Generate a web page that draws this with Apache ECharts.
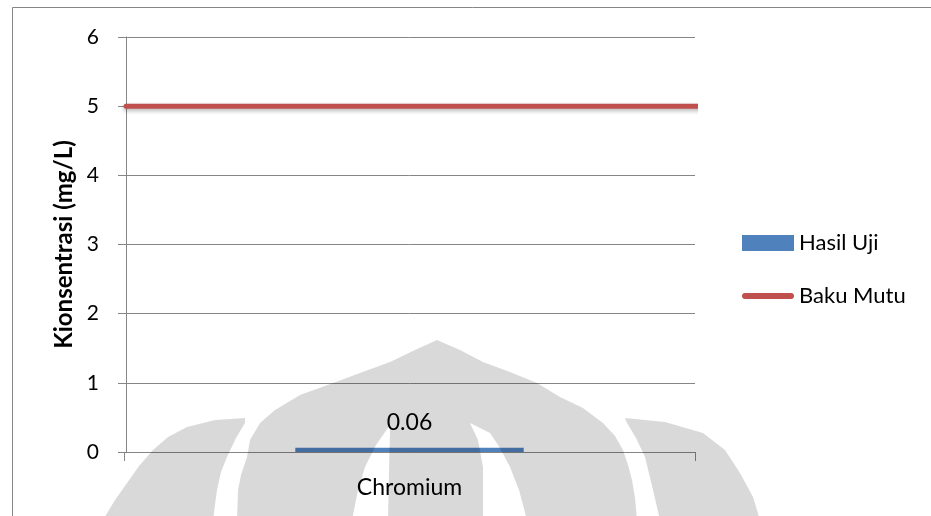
<!DOCTYPE html>
<html>
<head>
<meta charset="utf-8">
<script src="https://cdn.jsdelivr.net/npm/echarts@6/dist/echarts.min.js"></script>
<style>
  html, body { margin: 0; padding: 0; background: #ffffff; }
  #chart { width: 931px; height: 516px; }
</style>
</head>
<body>
<div id="chart"></div>
<script>
// Chart data
const categories = ['Chromium'];
const hasilUji = [0.06];
const bakuMutu = [5];
const yTicks = [0, 1, 2, 3, 4, 5, 6];

const FONT = 'Lato, "Open Sans", sans-serif';
const AXIS_GREY = '#868686';

// Faint background emblem shapes (semi-transparent overlay)
const WM_FILL = 'rgba(0,0,0,0.15)';
const emblemDome = [
  [437,340],[460,350],[483,362],[510,372],[537,383],[560,397],[583,408],[603,423],
  [615,436],[623,450],[628,465],[632,480],[635,498],[637,520],
  [527,520],[519,490],[510,467],[500,448],[490,433],[470,423],
  [478,440],[483,467],[483,520],
  [388,520],[389,470],[390,433],[390,425],
  [376,445],[365,467],[358,490],[352,520],
  [237,520],[238,490],[241,475],[247,457],[250,440],[260,423],[275,410],
  [300,395],[333,383],[360,373],[390,362],[415,350]
];
const emblemLeft = [
  [245,418],[215,420],[187,427],[168,437],[153,450],[139,466],[127,483],[115,500],[103,520],
  [213,520],[217,490],[221,472],[227,457],[236,438],[245,423]
];
const emblemRight = [
  [625,418],[665,422],[703,433],[725,450],[740,473],[753,497],[760,520],
  [660,520],[653,490],[645,457],[636,438],[627,423]
];

// Legend icon for the limit line: thick bar with rounded ends
const LINE_ICON = 'path://M3,0L49,0A3,3,0,0,1,49,6L3,6A3,3,0,0,1,3,0Z';

const chart = echarts.init(document.getElementById('chart'), null, { renderer: 'canvas' });

chart.setOption({
  animation: false,
  backgroundColor: '#ffffff',
  grid: { left: 124, right: 236, top: 37, bottom: 64, containLabel: false },
  legend: {
    orient: 'vertical',
    left: 742,
    top: 232,
    padding: 0,
    itemWidth: 52,
    itemHeight: 16,
    itemGap: 31,
    symbolKeepAspect: true,
    textStyle: { fontFamily: FONT, fontSize: 22, color: '#000', lineHeight: 16, padding: [2, 0, 0, 0] },
    data: [
      { name: 'Hasil Uji', icon: 'rect' },
      { name: 'Baku Mutu', icon: LINE_ICON, itemStyle: { color: '#C0504D' } }
    ]
  },
  xAxis: [
    {
      type: 'category',
      data: categories,
      axisLine: { show: true, lineStyle: { color: AXIS_GREY, width: 1 } },
      axisTick: { show: true, length: 9, lineStyle: { color: AXIS_GREY } },
      axisLabel: { fontFamily: FONT, fontSize: 23, color: '#000', margin: 24 },
      splitLine: { show: false }
    },
    {
      // helper axis spanning the plot width for the limit line
      type: 'value',
      show: false,
      min: -0.00345,
      max: 0.981
    }
  ],
  yAxis: {
    type: 'value',
    min: yTicks[0],
    max: yTicks[yTicks.length - 1],
    interval: 1,
    name: 'Kionsentrasi (mg/L)',
    nameLocation: 'middle',
    nameGap: 47,
    nameTextStyle: { fontFamily: FONT, fontSize: 24, fontWeight: 'bold', color: '#000' },
    axisLine: { show: true, lineStyle: { color: AXIS_GREY, width: 1 } },
    axisTick: { show: true, length: 8, lineStyle: { color: AXIS_GREY } },
    axisLabel: { fontFamily: FONT, fontSize: 21, color: '#000', margin: 25 },
    splitLine: { show: true, lineStyle: { color: AXIS_GREY, width: 1 } }
  },
  series: [
    {
      name: 'Hasil Uji',
      type: 'bar',
      data: hasilUji,
      barWidth: '40%',
      itemStyle: { color: '#4F81BD' },
      label: {
        show: true,
        position: 'top',
        distance: 14,
        fontFamily: FONT,
        fontSize: 23,
        color: '#000',
        formatter: p => p.value.toFixed(2)
      },
      z: 2
    },
    {
      name: 'Baku Mutu',
      type: 'line',
      xAxisIndex: 1,
      data: [[0, bakuMutu[0]], [1, bakuMutu[0]]],
      symbol: 'none',
      clip: false,
      lineStyle: {
        color: '#C0504D',
        width: 5,
        cap: 'round',
        shadowColor: 'rgba(0,0,0,0.3)',
        shadowBlur: 4,
        shadowOffsetY: 2
      },
      itemStyle: { color: '#C0504D' },
      z: 3
    }
  ],
  graphic: [
    {
      type: 'rect',
      shape: { x: 12.5, y: 7.5, width: 1000, height: 600 },
      style: { fill: 'none', stroke: AXIS_GREY, lineWidth: 1 },
      silent: true,
      z: 0
    },
    { type: 'polygon', shape: { points: emblemDome }, style: { fill: WM_FILL }, silent: true, z: 100 },
    { type: 'polygon', shape: { points: emblemLeft }, style: { fill: WM_FILL }, silent: true, z: 100 },
    { type: 'polygon', shape: { points: emblemRight }, style: { fill: WM_FILL }, silent: true, z: 100 }
  ]
});
</script>
</body>
</html>
